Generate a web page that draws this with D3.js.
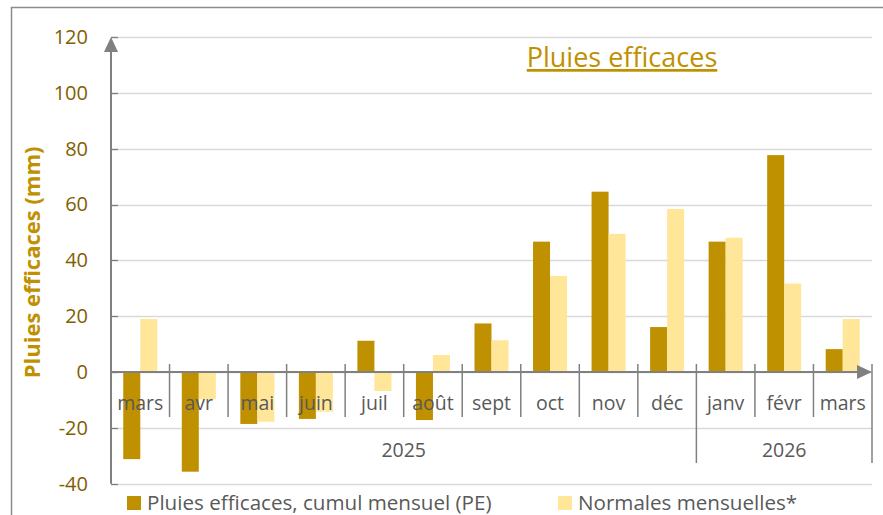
<!DOCTYPE html>
<html><head><meta charset="utf-8">
<script src="https://cdn.jsdelivr.net/npm/d3@7"></script>
<style>body{margin:0;background:#fff;} svg{display:block;font-family:"Open Sans", sans-serif;font-variant-ligatures:none;}</style>
</head><body>
<svg id="c" width="883" height="515"></svg>
<script>
const months = ["mars","avr","mai","juin","juil","août","sept","oct","nov","déc","janv","févr","mars"];
const years = [{label:"2025", from:0, to:10},{label:"2026", from:10, to:13}];
const pe = [-31.2,-35.7,-18.6,-16.8,11.2,-17.2,17.4,46.7,64.6,16.1,46.7,77.7,8.2];
const normales = [19.0,-9.7,-17.8,-14.2,-6.8,6.1,11.4,34.4,49.5,58.4,48.1,31.7,19.0];
const yTicks = [-40,-20,0,20,40,60,80,100,120];
const seriesNames = ["Pluies efficaces, cumul mensuel (PE)","Normales mensuelles*"];
const colors = ["#bf9000","#ffe699"];

const svg = d3.select("#c");
const x0 = 111, x1 = 872;
const y = d3.scaleLinear().domain([-40,120]).range([483.7,37]);
const xb = d3.scaleBand().domain(d3.range(months.length)).range([x0,x1]).padding(0);
const xs = d3.scaleBand().domain([0,1]).range([0,xb.bandwidth()]).paddingInner(0).paddingOuter(0.72);

// outer border
svg.append("path").attr("d",`M11.5,515 V7.5 H883`).attr("fill","none").attr("stroke","#8c8c8c").attr("stroke-width",1.5);

// gridlines
svg.append("g").selectAll("line").data(yTicks).join("line")
  .attr("x1",x0).attr("x2",x1).attr("y1",d=>Math.round(y(d))+0.5).attr("y2",d=>Math.round(y(d))+0.5)
  .attr("stroke","#d9d9d9").attr("stroke-width",1.3);

// y axis
const ya = svg.append("g").attr("transform",`translate(${x0},0)`)
  .call(d3.axisLeft(y).tickValues(yTicks).tickSize(0).tickPadding(23).tickFormat(d=>String(d)));
ya.select(".domain").remove();
ya.selectAll("text").attr("fill","#7f6000").attr("font-size",20).attr("font-family","'Open Sans', sans-serif");
svg.append("g").selectAll("line").data(yTicks).join("line")
  .attr("x1",x0).attr("x2",x0+7).attr("y1",d=>Math.round(y(d))+0.5).attr("y2",d=>Math.round(y(d))+0.5)
  .attr("stroke","#808080").attr("stroke-width",1.3);
svg.append("line").attr("x1",x0).attr("x2",x0).attr("y1",y(-40)).attr("y2",y(120)+8)
  .attr("stroke","#808080").attr("stroke-width",2);
svg.append("path").attr("d",`M${x0},${y(120)} l-7,15 h14 z`).attr("fill","#808080");

// bars
const gBars = svg.append("g");
months.forEach((m,i)=>{
  [pe[i],normales[i]].forEach((v,j)=>{
    gBars.append("rect")
      .attr("x",xb(i)+xs(j)).attr("width",xs.bandwidth())
      .attr("y",y(Math.max(0,v))).attr("height",Math.abs(y(v)-y(0)))
      .attr("fill",colors[j]);
  });
});

// x axis line with arrow
svg.append("line").attr("x1",x0).attr("x2",x1-14).attr("y1",y(0)).attr("y2",y(0)).attr("stroke","#808080").attr("stroke-width",2);
svg.append("path").attr("d",`M${x1},${y(0)} l-15,-7 v14 z`).attr("fill","#808080");

// month separators
const sepTop = 364, sepBot = 417, yearBot = 463;
svg.append("g").selectAll("line").data(d3.range(1,months.length+1)).join("line")
  .attr("x1",i=> i<months.length ? xb(i) : x1).attr("x2",i=> i<months.length ? xb(i) : x1)
  .attr("y1",sepTop).attr("y2",i=> (i===10||i===13)?yearBot:sepBot)
  .attr("stroke","#808080").attr("stroke-width",1.5);

// month labels
svg.append("g").selectAll("text").data(months).join("text")
  .attr("x",(d,i)=>xb(i)+xb.bandwidth()/2).attr("y",410)
  .attr("text-anchor","middle").attr("font-size",19.5).attr("fill","#595959").text(d=>d);

// year labels
svg.append("g").selectAll("text").data(years).join("text")
  .attr("x",d=>(xb(d.from)+(d.to<months.length?xb(d.to):x1))/2).attr("y",457)
  .attr("text-anchor","middle").attr("font-size",19.5).attr("fill","#595959").text(d=>d.label);

// y axis title
svg.append("text").attr("transform",`translate(40,${(y(120)+y(-40))/2 + 2}) rotate(-90)`)
  .attr("text-anchor","middle").attr("font-size",22).attr("font-weight","bold").attr("fill","#bf9000")
  .text("Pluies efficaces (mm)");

// chart title
svg.append("text").attr("x",622).attr("y",67).attr("text-anchor","middle")
  .attr("font-size",27).attr("fill","#bf9000").attr("text-decoration","underline").text("Pluies efficaces");

// legend
const legX = [127,558];
seriesNames.forEach((n,j)=>{
  svg.append("rect").attr("x",legX[j]).attr("y",496).attr("width",14).attr("height",14).attr("fill",colors[j]);
  svg.append("text").attr("x",legX[j]+20).attr("y",510).attr("font-size",20.6).attr("fill","#595959").text(n);
});
</script>
</body></html>
